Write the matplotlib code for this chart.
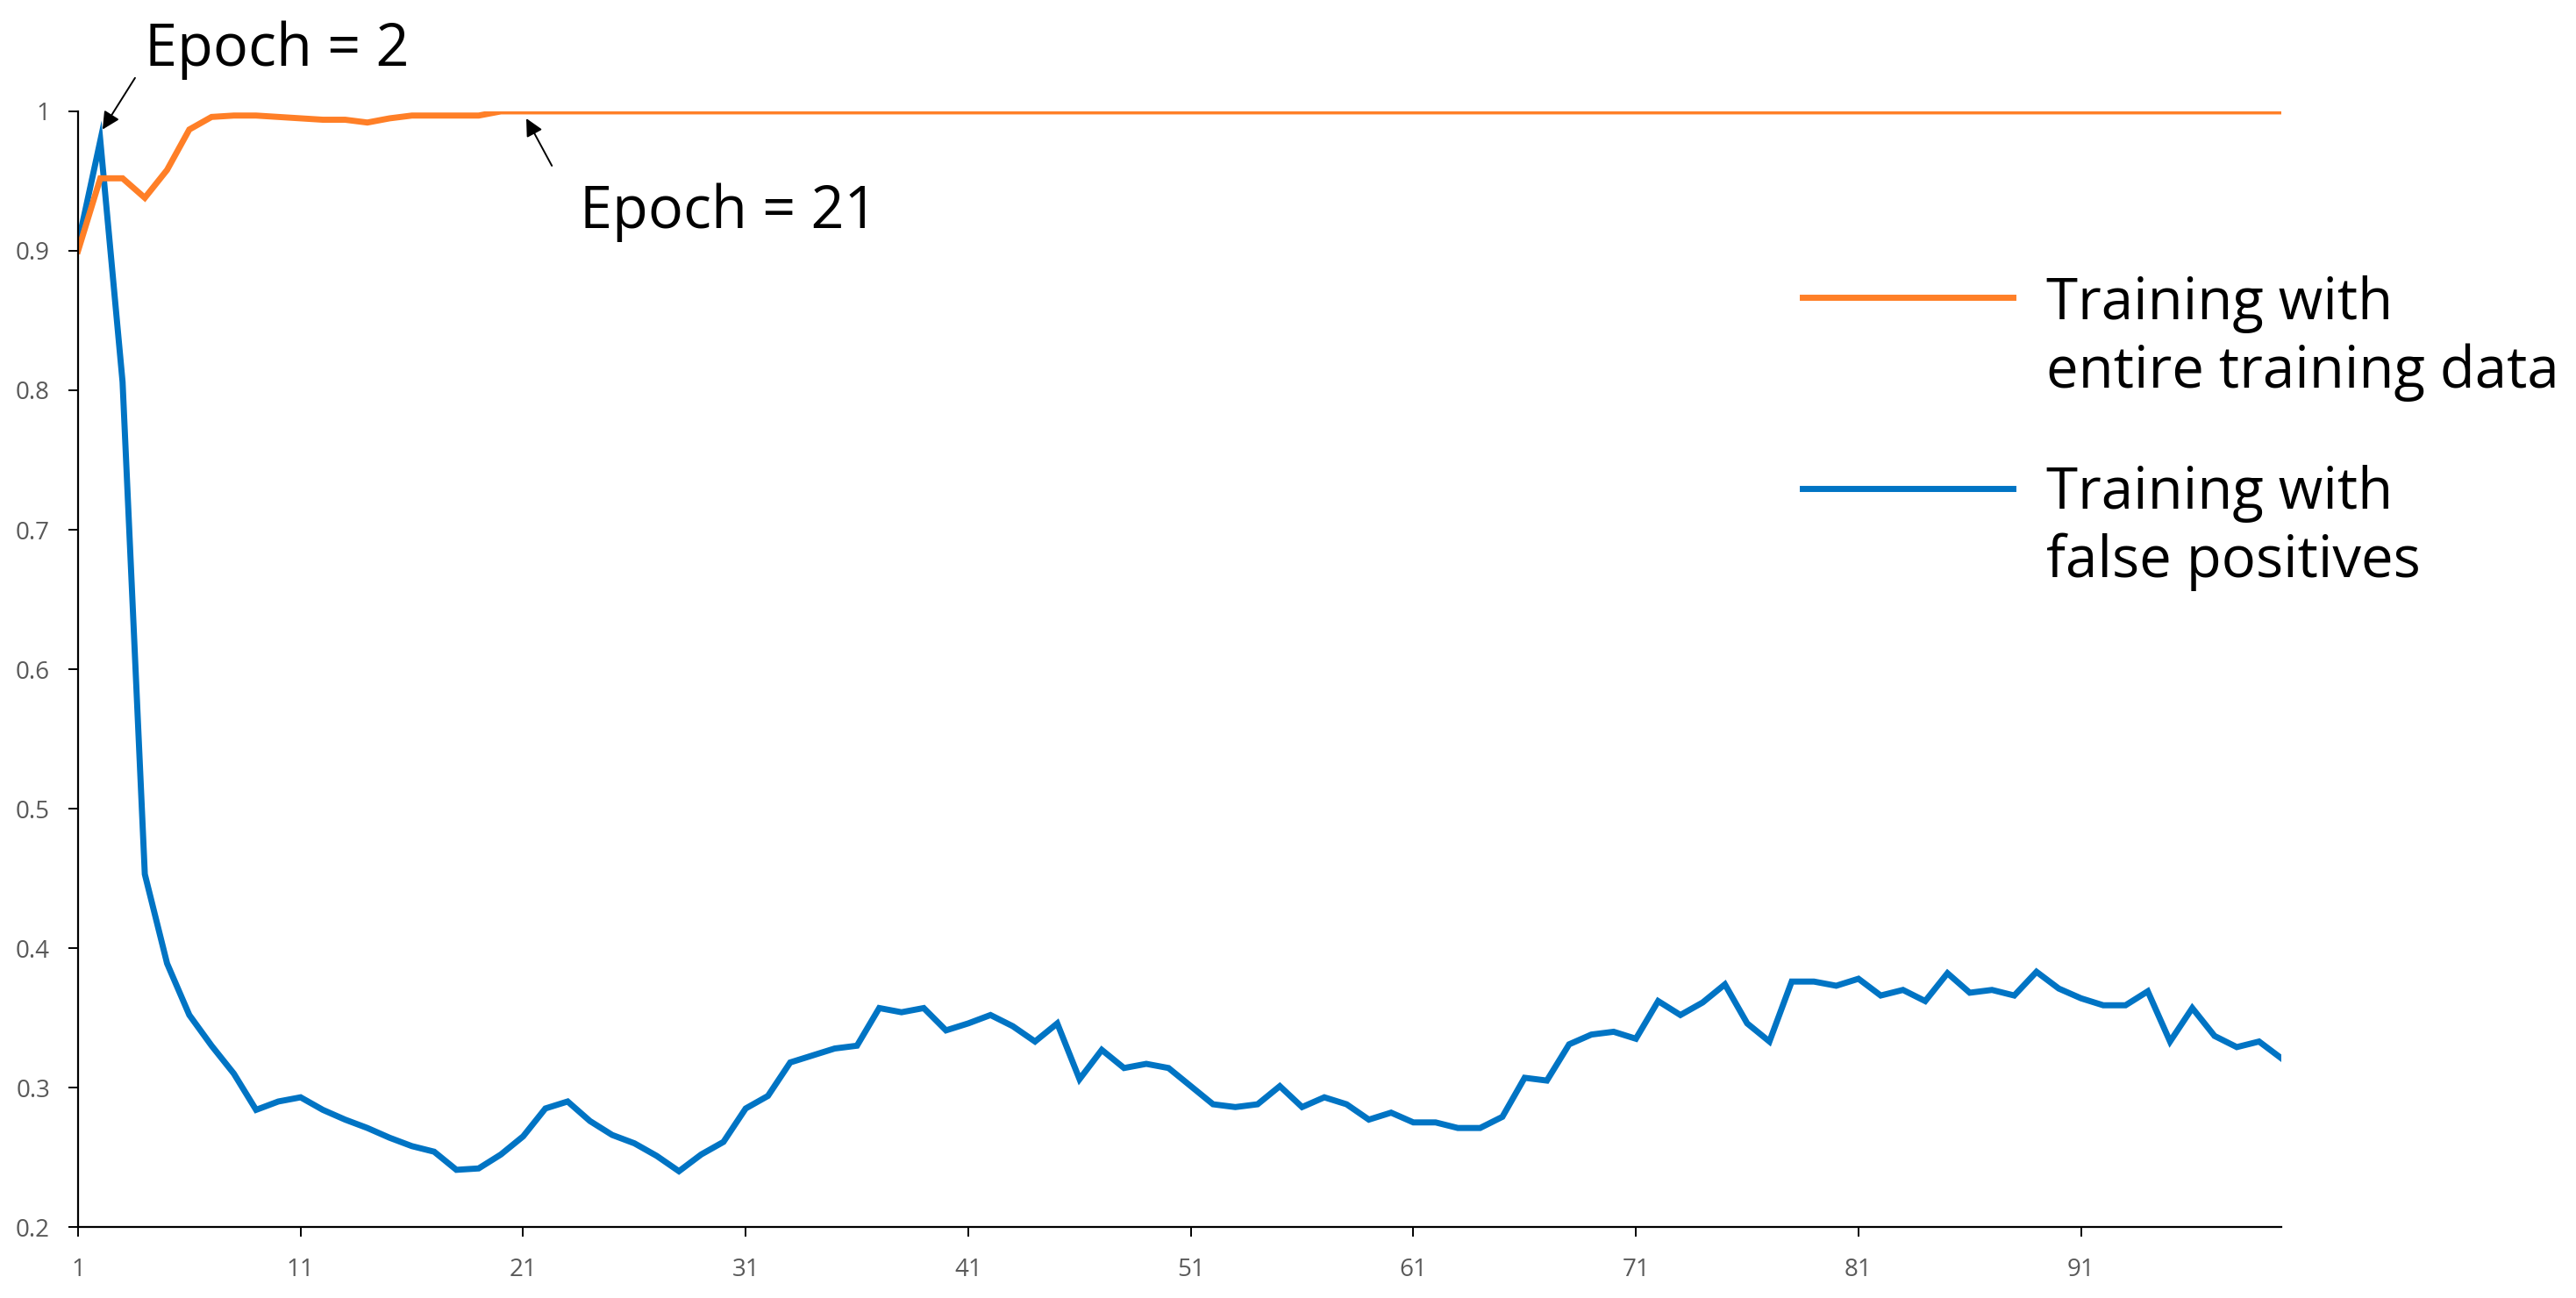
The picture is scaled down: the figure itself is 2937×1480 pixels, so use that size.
import numpy as np
import matplotlib
matplotlib.use("Agg")
import matplotlib.pyplot as plt
from matplotlib.lines import Line2D

plt.rcParams['font.family'] = ['Open Sans', 'DejaVu Sans']

# accuracy per epoch
epochs = list(range(1, 101))
entire_data = [0.900, 0.952, 0.952, 0.938, 0.958, 0.987, 0.996, 0.997, 0.997, 0.996,
               0.995, 0.994, 0.994, 0.992, 0.995, 0.997, 0.997, 0.997, 0.997, 1.000,
               1.000, 1.000, 1.000, 1.000, 1.000, 1.000, 1.000, 1.000, 1.000, 1.000,
               1.000, 1.000, 1.000, 1.000, 1.000, 1.000, 1.000, 1.000, 1.000, 1.000,
               1.000, 1.000, 1.000, 1.000, 1.000, 1.000, 1.000, 1.000, 1.000, 1.000,
               1.000, 1.000, 1.000, 1.000, 1.000, 1.000, 1.000, 1.000, 1.000, 1.000,
               1.000, 1.000, 1.000, 1.000, 1.000, 1.000, 1.000, 1.000, 1.000, 1.000,
               1.000, 1.000, 1.000, 1.000, 1.000, 1.000, 1.000, 1.000, 1.000, 1.000,
               1.000, 1.000, 1.000, 1.000, 1.000, 1.000, 1.000, 1.000, 1.000, 1.000,
               1.000, 1.000, 1.000, 1.000, 1.000, 1.000, 1.000, 1.000, 1.000, 1.000]
false_pos = [0.905, 0.979, 0.806, 0.453, 0.389, 0.352, 0.330, 0.310, 0.284, 0.290,
             0.293, 0.284, 0.277, 0.271, 0.264, 0.258, 0.254, 0.241, 0.242, 0.252,
             0.265, 0.285, 0.290, 0.276, 0.266, 0.260, 0.251, 0.240, 0.252, 0.261,
             0.285, 0.294, 0.318, 0.323, 0.328, 0.330, 0.357, 0.354, 0.357, 0.341,
             0.346, 0.352, 0.344, 0.333, 0.346, 0.306, 0.327, 0.314, 0.317, 0.314,
             0.301, 0.288, 0.286, 0.288, 0.301, 0.286, 0.293, 0.288, 0.277, 0.282,
             0.275, 0.275, 0.271, 0.271, 0.279, 0.307, 0.305, 0.331, 0.338, 0.340,
             0.335, 0.362, 0.352, 0.361, 0.374, 0.346, 0.333, 0.376, 0.376, 0.373,
             0.378, 0.366, 0.370, 0.362, 0.382, 0.368, 0.370, 0.366, 0.383, 0.371,
             0.364, 0.359, 0.359, 0.369, 0.333, 0.357, 0.337, 0.329, 0.333, 0.321]

xticks = [1, 11, 21, 31, 41, 51, 61, 71, 81, 91]
yticks = [0.2, 0.3, 0.4, 0.5, 0.6, 0.7, 0.8, 0.9, 1.0]
ytick_labels = ['0.2', '0.3', '0.4', '0.5', '0.6', '0.7', '0.8', '0.9', '1']
labels = ["Training with\nentire training data", "Training with\nfalse positives"]

c_orange = '#FF7F27'
c_blue = '#0074C4'

fig = plt.figure(figsize=(29.37, 14.80), dpi=100)
ax = fig.add_axes([0.0303, 0.0547, 0.8856 - 0.0303, 0.9142 - 0.0547])

ax.plot(epochs, false_pos, color=c_blue, lw=5, solid_joinstyle='miter')
ax.plot(epochs, entire_data, color=c_orange, lw=5, solid_joinstyle='miter')

ax.set_xlim(1, 100)
ax.set_ylim(0.2, 1.0)
ax.set_xticks(xticks)
ax.set_yticks(yticks)
ax.set_yticklabels(ytick_labels)
for s in ['top', 'right']:
    ax.spines[s].set_visible(False)
for s in ['left', 'bottom']:
    ax.spines[s].set_linewidth(1.6)
ax.tick_params(axis='both', direction='out', length=8, width=1.4,
               labelsize=20, labelcolor='#595959')
ax.tick_params(axis='y', pad=15)
ax.tick_params(axis='x', pad=17)

# annotations
arrow = dict(arrowstyle='-|>', color='black', lw=1.4, mutation_scale=30,
             shrinkA=0, shrinkB=0)
ax.annotate('', xy=(2.1, 0.987), xytext=(3.56, 1.024), arrowprops=arrow,
            annotation_clip=False)
ax.text(4.0, 1.033, 'Epoch = 2', fontsize=48, ha='left', va='baseline',
        clip_on=False)
ax.annotate('', xy=(21.14, 0.995), xytext=(22.29, 0.961), arrowprops=arrow,
            annotation_clip=False)
ax.text(23.55, 0.9164, 'Epoch = 21', fontsize=48, ha='left', va='baseline')

# legend drawn by hand: handle lines up with the first text line
# (va='baseline' anchors the last line of a two-line label)
for col, lab, y_line, y_base in [(c_orange, labels[0], 0.7709, 0.7014),
                                 (c_blue, labels[1], 0.6236, 0.5554)]:
    fig.add_artist(Line2D([0.6997, 0.7814], [y_line, y_line], color=col, lw=5,
                          transform=fig.transFigure))
    fig.text(0.7943, y_base, lab, fontsize=47, ha='left', va='baseline',
             linespacing=1.22)

fig.savefig('out.png', dpi=100)
